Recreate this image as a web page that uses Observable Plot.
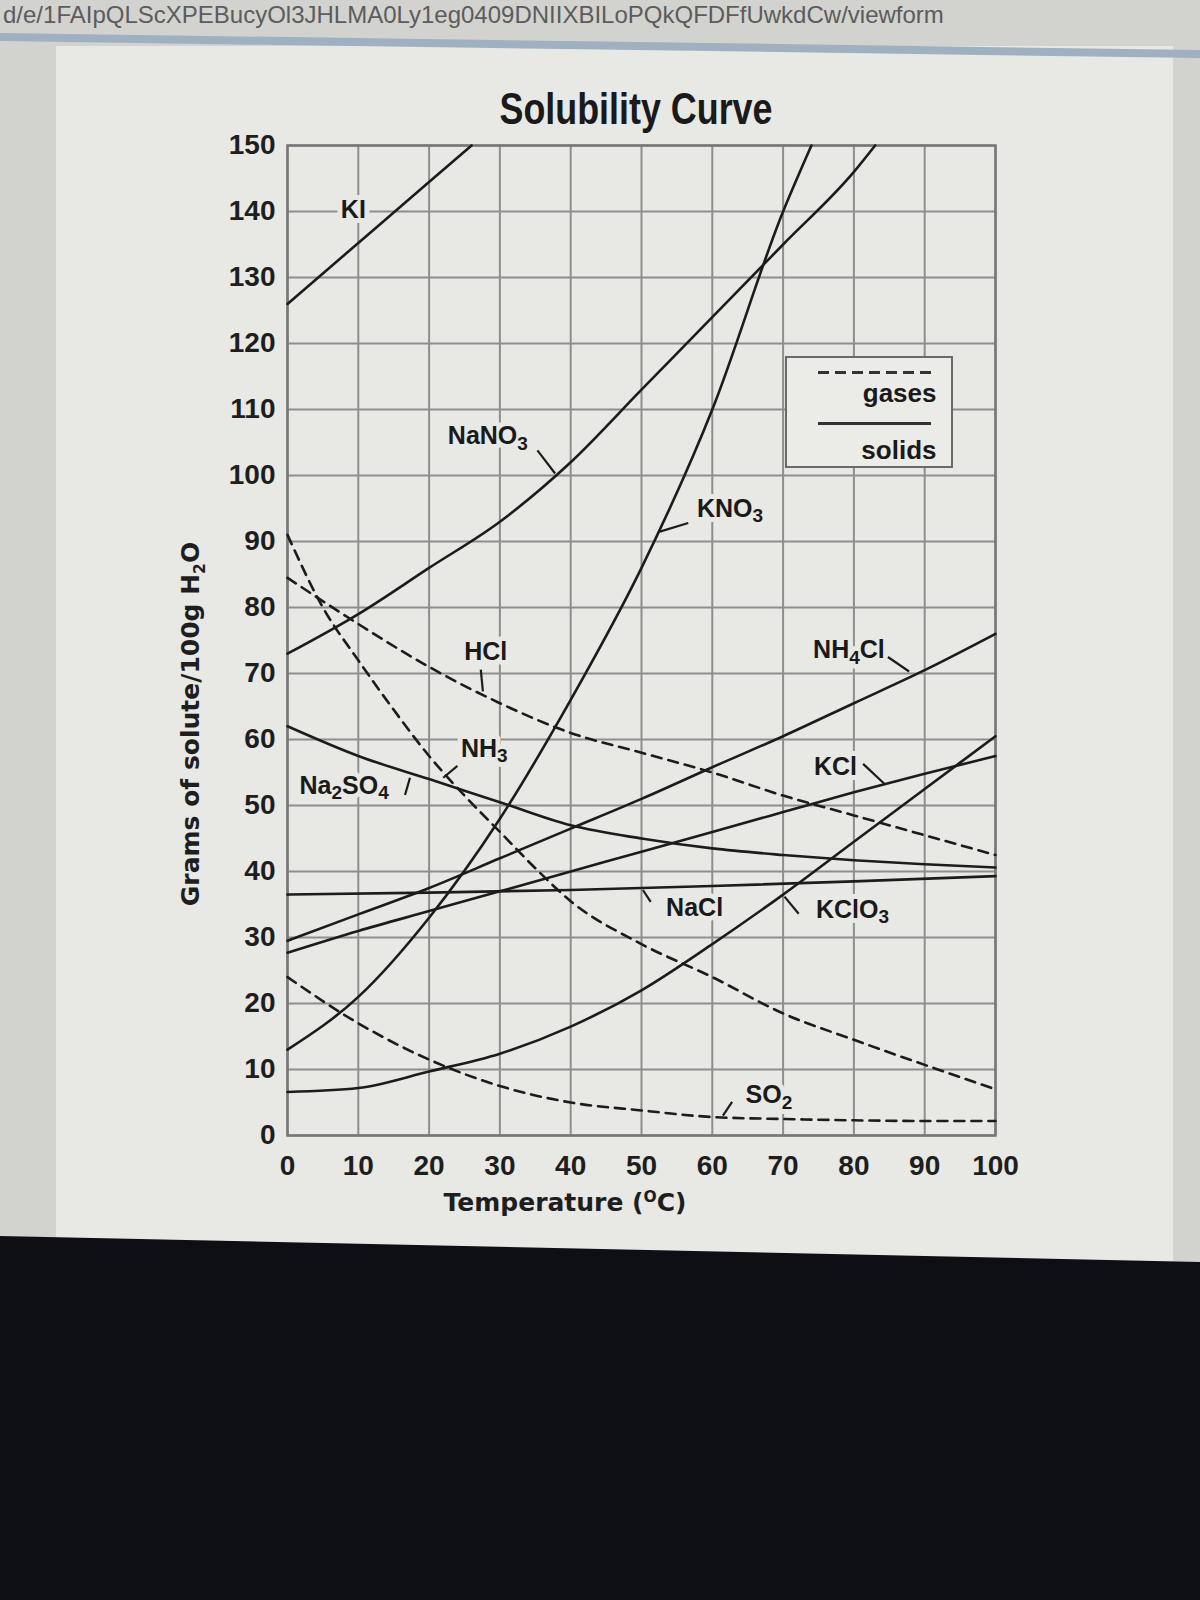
<!DOCTYPE html>
<html>
<head>
<meta charset="utf-8">
<script src="https://cdn.jsdelivr.net/npm/d3@7"></script>
<script src="https://cdn.jsdelivr.net/npm/@observablehq/plot@0.6"></script>
<style>
html,body{margin:0;padding:0;}
body{width:1200px;height:1600px;position:relative;overflow:hidden;background:#d2d2cf;font-family:"Liberation Sans",Arial,sans-serif;}
#card{position:absolute;left:56px;top:46px;width:1117px;height:1220px;background:#e8e8e5;}
#url{position:absolute;left:3px;top:3px;font-size:24px;line-height:24px;color:#5c5c5c;white-space:nowrap;}
#bar{position:absolute;left:0;top:0;width:1200px;height:1600px;background:#9fb0c0;clip-path:polygon(0 33px,1200px 50px,1200px 58px,0 41px);}
#bottom{position:absolute;left:0;top:0;width:1200px;height:1600px;background:#0d0f14;clip-path:polygon(0 1236px,1200px 1262px,1200px 1600px,0 1600px);}
#chart{position:absolute;left:0;top:0;}
#title{position:absolute;left:636px;top:87px;transform:translateX(-50%) scaleX(0.815);font-weight:bold;font-size:44px;line-height:44px;color:#1a1a1a;white-space:nowrap;}
#ylab{position:absolute;left:190px;top:724px;transform:translate(-50%,-50%) rotate(-90deg);font-family:"DejaVu Sans",sans-serif;font-weight:bold;font-size:25px;line-height:25px;color:#1e1e1e;white-space:nowrap;}
#xlab{position:absolute;left:565px;top:1190px;transform:translateX(-50%);font-family:"DejaVu Sans",sans-serif;font-weight:bold;font-size:25px;line-height:25px;color:#1e1e1e;white-space:nowrap;}
sub,sup{font-size:62%;line-height:0;}
#legend{position:absolute;border:2px solid #6a6a6a;box-sizing:border-box;background:#ebebe8;}
#legend .ln{position:absolute;left:19%;right:12%;height:3px;}
#legend .tx{position:absolute;right:14px;font-weight:bold;font-size:26px;line-height:26px;color:#1a1a1a;}
</style>
</head>
<body>
<div id="card"></div>
<div id="url">d/e/1FAIpQLScXPEBucyOl3JHLMA0Ly1eg0409DNIIXBILoPQkQFDFfUwkdCw/viewform</div>
<div id="bar"></div>
<div id="chart"></div>
<div id="title">Solubility Curve</div>
<div id="ylab">Grams of solute/100g H<sub>2</sub>O</div>
<div id="xlab">Temperature (<sup>O</sup>C)</div>
<div id="bottom"></div>
<script>
// ---- tick values ----
const X_TICKS = [0,10,20,30,40,50,60,70,80,90,100];
const Y_TICKS = [0,10,20,30,40,50,60,70,80,90,100,110,120,130,140,150];

// ---- solids (temperature °C, grams / 100 g water) ----
const KI_T = [0,13,26];
const KI_V = [126,138,150];
const NANO3_T = [0,10,20,30,40,50,60,70,80,83];
const NANO3_V = [73,79,86,93,102,113,124,135,146,150];
const KNO3_T = [0,10,20,30,40,50,60,70,74];
const KNO3_V = [13,21,33,48,66,86,110,140,150];
const NACL_T = [0,20,40,60,80,100];
const NACL_V = [36.5,36.8,37.2,37.8,38.5,39.3];
const NA2SO4_T = [0,10,20,30,40,50,60,70,80,90,100];
const NA2SO4_V = [62,57.5,54,50.5,47,45,43.5,42.5,41.7,41.1,40.6];
const KCL_T = [0,10,20,30,40,50,60,70,80,90,100];
const KCL_V = [27.7,31,34,37,40,43,46,49,52,54.8,57.5];
const NH4CL_T = [0,10,20,30,40,50,60,70,80,90,100];
const NH4CL_V = [29.5,33.5,37.5,42,46.5,51,55.8,60.5,65.5,70.5,76];
const KCLO3_T = [0,10,20,30,40,50,60,70,80,90,100];
const KCLO3_V = [6.6,7.2,9.7,12.4,16.5,22,29,36.5,44.5,52.5,60.5];

// ---- gases ----
const HCL_T = [0,10,20,30,40,50,60,70,80,90,100];
const HCL_V = [84.5,77.5,71,65.5,61,58,55,51.5,48.5,45.5,42.5];
const NH3_T = [0,5,10,15,20,25,30,35,40,50,60,70,80,90,100];
const NH3_V = [91,80,72,64.5,57.5,51.5,46,40.5,35.5,29,24,18.5,14.5,10.7,7];
const SO2_T = [0,10,20,30,40,50,60,70,80,90,100];
const SO2_V = [24,17,11.5,7.5,5,3.8,2.8,2.5,2.3,2.2,2.2];

// ---- curve labels (text, temperature, grams) ----
const LABEL_TEXT = ["KI","NaNO3","KNO3","HCl","NH3","Na2SO4","NaCl","NH4Cl","KCl","KClO3","SO2"];
const LABEL_X    = [9.3, 28.3, 62.5, 28, 27.8, 8, 57.5, 79.3, 77.4, 79.8, 68];
const LABEL_Y    = [140.3, 106, 95, 73.3, 58.6, 53, 34.4, 73.5, 55.8, 34.2, 6.1];
// ---- leader lines from labels to curves ----
const LEAD_X1 = [35.3, 56.6, 27.3, 24, 17.3, 51.3, 84.8, 81.3, 72.2, 62.8];
const LEAD_Y1 = [103.8, 92.8, 70.6, 56, 54.2, 35.4, 72.5, 56.3, 33.6, 5.1];
const LEAD_X2 = [37.8, 52.6, 27.6, 22, 16.6, 50.2, 87.8, 84.3, 70.2, 61.5];
const LEAD_Y2 = [100.3, 91.5, 67.3, 54.2, 51.6, 37.2, 70.3, 53.3, 36.2, 3.0];

const BG = "#e8e8e5";
const INK = "#1c1c1c";

const series = [
  {name:"KI", gas:false, t:KI_T, v:KI_V},
  {name:"NaNO3", gas:false, t:NANO3_T, v:NANO3_V},
  {name:"KNO3", gas:false, t:KNO3_T, v:KNO3_V},
  {name:"NaCl", gas:false, t:NACL_T, v:NACL_V},
  {name:"Na2SO4", gas:false, t:NA2SO4_T, v:NA2SO4_V},
  {name:"KCl", gas:false, t:KCL_T, v:KCL_V},
  {name:"NH4Cl", gas:false, t:NH4CL_T, v:NH4CL_V},
  {name:"KClO3", gas:false, t:KCLO3_T, v:KCLO3_V},
  {name:"HCl", gas:true, t:HCL_T, v:HCL_V},
  {name:"NH3", gas:true, t:NH3_T, v:NH3_V},
  {name:"SO2", gas:true, t:SO2_T, v:SO2_V}
];
const rows = series.flatMap(s => s.t.map((t, i) => ({name: s.name, gas: s.gas, t, v: s.v[i]})));
const labels = LABEL_TEXT.map((text, i) => ({text, x: LABEL_X[i], y: LABEL_Y[i]}));
const leads = LEAD_X1.map((x1, i) => ({x1, y1: LEAD_Y1[i], x2: LEAD_X2[i], y2: LEAD_Y2[i]}));

const W = 1200, H = 1240;
const chart = Plot.plot({
  width: W, height: H,
  marginLeft: 287, marginRight: 205, marginTop: 145, marginBottom: 105,
  style: {background: "transparent", fontFamily: "'Liberation Sans', Arial, sans-serif", fontWeight: "bold", fontSize: "28px", color: "#1e1e1e", overflow: "visible"},
  x: {domain: [0, 100], ticks: X_TICKS, tickSize: 0, tickPadding: 20, label: null},
  y: {domain: [0, 150], ticks: Y_TICKS, tickSize: 0, tickPadding: 12, label: null},
  marks: [
    Plot.ruleX(X_TICKS, {x: d => d, stroke: "#8e8e8e", strokeWidth: 2}),
    Plot.ruleY(Y_TICKS, {y: d => d, stroke: "#8e8e8e", strokeWidth: 2}),
    Plot.text(labels, {x: "x", y: "y", text: "text", fontSize: 25, fontWeight: "bold", fill: BG, stroke: BG, strokeWidth: 10, className: "lbl"}),
    Plot.frame({stroke: "#777", strokeWidth: 2.5}),
    Plot.line(rows.filter(d => !d.gas), {x: "t", y: "v", z: "name", stroke: INK, strokeWidth: 2.6, curve: "monotone-x"}),
    Plot.line(rows.filter(d => d.gas), {x: "t", y: "v", z: "name", stroke: INK, strokeWidth: 2.6, strokeDasharray: "10,7", curve: "monotone-x"}),
    Plot.link(leads, {x1: "x1", y1: "y1", x2: "x2", y2: "y2", stroke: INK, strokeWidth: 2.2}),
    Plot.text(labels, {x: "x", y: "y", text: "text", fontSize: 25, fontWeight: "bold", fill: "#1a1a1a", className: "lbl"})
  ]
});
document.getElementById("chart").appendChild(chart);

// chemical formula digits as subscripts
chart.querySelectorAll(".lbl text").forEach(el => {
  const s = el.textContent;
  const parts = s.match(/\d+|\D+/g) || [];
  if (parts.length < 2) return;
  el.textContent = "";
  parts.forEach(p => {
    const ts = document.createElementNS("http://www.w3.org/2000/svg", "tspan");
    ts.textContent = p;
    if (/\d/.test(p)) { ts.setAttribute("font-size", "19"); ts.setAttribute("dy", "0.3em"); }
    else if (el.childNodes.length) { ts.setAttribute("dy", "-0.23em"); }
    el.appendChild(ts);
  });
});

// legend positioned in data units via the chart's scales
const LEGEND_X = [70.4, 94];
const LEGEND_Y = [118, 101];
const sx = chart.scale("x"), sy = chart.scale("y");
const lx0 = sx.apply(LEGEND_X[0]), lx1 = sx.apply(LEGEND_X[1]);
const ly0 = sy.apply(LEGEND_Y[0]), ly1 = sy.apply(LEGEND_Y[1]);
const lg = document.createElement("div");
lg.id = "legend";
lg.style.left = lx0 + "px"; lg.style.top = ly0 + "px";
lg.style.width = (lx1 - lx0) + "px"; lg.style.height = (ly1 - ly0) + "px";
const hgt = ly1 - ly0;
lg.innerHTML =
  `<div class="ln" style="top:${hgt*0.11}px;background:repeating-linear-gradient(90deg,#333 0 11px,transparent 11px 17px)"></div>` +
  `<div class="tx" style="top:${hgt*0.19}px">gases</div>` +
  `<div class="ln" style="top:${hgt*0.57}px;background:#333;height:2.5px"></div>` +
  `<div class="tx" style="top:${hgt*0.70}px">solids</div>`;
document.body.insertBefore(lg, document.getElementById("title"));
</script>
</body>
</html>
